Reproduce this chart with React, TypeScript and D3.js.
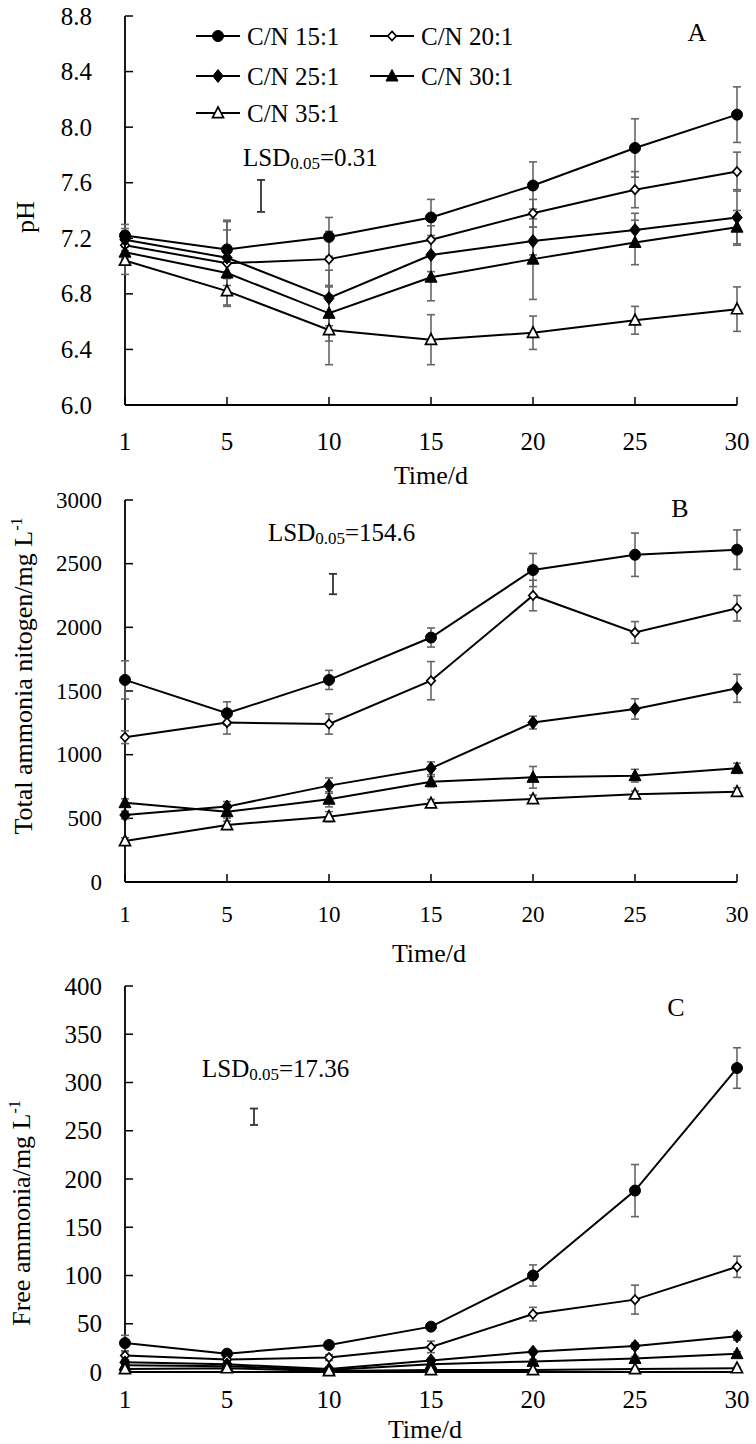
import React from "react";
import * as d3 from "d3";

const days = ["1", "5", "10", "15", "20", "25", "30"];
const seriesNames = ["C/N 15:1", "C/N 20:1", "C/N 25:1", "C/N 30:1", "C/N 35:1"];
const markerKinds = ["circleFilled", "diamondOpen", "diamondFilled", "triangleFilled", "triangleOpen"];

// Panel A: pH
const pH15 = [7.22, 7.12, 7.21, 7.35, 7.58, 7.85, 8.09];
const pH20 = [7.15, 7.02, 7.05, 7.19, 7.38, 7.55, 7.68];
const pH25 = [7.19, 7.06, 6.77, 7.08, 7.18, 7.26, 7.35];
const pH30 = [7.10, 6.95, 6.66, 6.92, 7.05, 7.17, 7.28];
const pH35 = [7.04, 6.82, 6.54, 6.47, 6.52, 6.61, 6.69];
const pHErr15 = [0.08, 0.21, 0.14, 0.13, 0.17, 0.21, 0.2];
const pHErr20 = [0.1, 0.3, 0.2, 0.1, 0.1, 0.13, 0.14];
const pHErr25 = [0.08, 0.2, 0.2, 0.12, 0.1, 0.12, 0.2];
const pHErr30 = [0.08, 0.15, 0.2, 0.17, 0.29, 0.16, 0.12];
const pHErr35 = [0.1, 0.11, 0.25, 0.18, 0.12, 0.1, 0.16];
const pHTicks = [6.0, 6.4, 6.8, 7.2, 7.6, 8.0, 8.4, 8.8];

// Panel B: total ammonia nitrogen
const tan15 = [1587, 1325, 1587, 1920, 2450, 2570, 2610];
const tan20 = [1137, 1252, 1241, 1581, 2250, 1960, 2150];
const tan25 = [526, 592, 757, 893, 1252, 1359, 1521];
const tan30 = [623, 552, 650, 788, 822, 835, 893];
const tan35 = [322, 448, 513, 618, 652, 689, 709];
const tanErr15 = [150, 90, 75, 75, 130, 170, 155];
const tanErr20 = [50, 90, 80, 150, 120, 85, 100];
const tanErr25 = [30, 40, 60, 50, 50, 80, 110];
const tanErr30 = [30, 50, 60, 40, 85, 50, 40];
const tanErr35 = [25, 30, 40, 30, 30, 25, 30];
const tanTicks = [0, 500, 1000, 1500, 2000, 2500, 3000];

// Panel C: free ammonia
const fa15 = [30, 19, 28, 47, 100, 188, 315];
const fa20 = [17, 13, 15, 26, 60, 75, 109];
const fa25 = [10, 8, 3, 12, 21, 27, 37];
const fa30 = [7, 6, 2, 8, 11, 14, 19];
const fa35 = [3, 4, 1, 2, 2, 3, 4];
const faErr15 = [8, 3, 3, 3, 11, 27, 21];
const faErr20 = [4, 3, 3, 6, 7, 15, 11];
const faErr25 = [2, 2, 1, 2, 2, 3, 4];
const faErr30 = [2, 2, 1, 2, 2, 2, 2];
const faErr35 = [1, 1, 1, 1, 1, 1, 1];
const faTicks = [0, 50, 100, 150, 200, 250, 300, 350, 400];

const FONT = "'Liberation Serif', 'Times New Roman', serif";
const ERR_COLOR = "#666";

function markerPath(kind: string): string {
  switch (kind) {
    case "circleFilled":
    case "circleOpen":
      return "M-5.5,0A5.5,5.5 0 1,0 5.5,0A5.5,5.5 0 1,0 -5.5,0Z";
    case "diamondOpen":
      return "M0,-4.6L4.2,0L0,4.6L-4.2,0Z";
    case "diamondFilled":
      return "M0,-6.5L5.2,0L0,6.5L-5.2,0Z";
    case "triangleFilled":
      return "M0,-6.5L6,5L-6,5Z";
    case "triangleOpen":
      return "M0,-6L5.5,4.6L-5.5,4.6Z";
  }
  return "";
}

function Marker({ kind, x, y }: { kind: string; x: number; y: number }) {
  const open = kind.endsWith("Open");
  return (
    <path
      d={markerPath(kind)}
      transform={`translate(${x},${y})`}
      fill={open ? "#fff" : "#000"}
      stroke="#000"
      strokeWidth={open ? 1.7 : 1}
    />
  );
}

type PanelProps = {
  series: number[][];
  errs: number[][];
  domain: [number, number];
  ticks: number[];
  fmt: (v: number) => string;
  top: number;
  bottom: number;
  tickFont: number;
  tickLabelRight: number;
  xLabelY: number;
  timeLabelY: number;
  timeLabelX: number;
  letter: string;
  letterX: number;
  letterY: number;
  lsdText: string;
  lsdX: number;
  lsdY: number;
  lsdBarX: number;
  lsdBar: [number, number];
  yTitle: React.ReactNode;
};

const xLeft = 125;
const xRight = 737;

function Panel(p: PanelProps) {
  const x = d3.scalePoint<string>().domain(days).range([xLeft, xRight]);
  const y = d3.scaleLinear().domain(p.domain).range([p.bottom, p.top]);
  const line = d3
    .line<number>()
    .x((_, i) => x(days[i]) as number)
    .y((v) => y(v));
  const cap = 4;
  return (
    <g>
      <line x1={xLeft} x2={xLeft} y1={p.top} y2={p.bottom} stroke="#000" strokeWidth={1.8} />
      <line x1={xLeft} x2={xRight} y1={p.bottom} y2={p.bottom} stroke="#000" strokeWidth={1.8} />
      {p.ticks.map((t) => (
        <g key={"yt" + t}>
          <line x1={xLeft} x2={xLeft + 8} y1={y(t)} y2={y(t)} stroke="#000" strokeWidth={1.5} />
          <text
            x={p.tickLabelRight}
            y={y(t)}
            textAnchor="end"
            dominantBaseline="central"
            fontSize={p.tickFont}
            fontFamily={FONT}
          >
            {p.fmt(t)}
          </text>
        </g>
      ))}
      {days.map((d) => (
        <g key={"xt" + d}>
          <line x1={x(d)} x2={x(d)} y1={p.bottom} y2={p.bottom - 8} stroke="#000" strokeWidth={1.5} />
          <text
            x={x(d)}
            y={p.xLabelY}
            textAnchor="middle"
            dominantBaseline="central"
            fontSize={p.tickFont}
            fontFamily={FONT}
          >
            {d}
          </text>
        </g>
      ))}
      <text
        x={p.timeLabelX}
        y={p.timeLabelY}
        textAnchor="middle"
        dominantBaseline="central"
        fontSize={26}
        fontFamily={FONT}
      >
        Time/d
      </text>
      {p.yTitle}
      {p.series.map((s, si) =>
        s.map((v, i) => {
          const cx = x(days[i]) as number;
          const e = p.errs[si][i];
          const y1 = y(v + e);
          const y2 = y(v - e);
          return (
            <g key={`e${si}-${i}`} stroke={ERR_COLOR} strokeWidth={1.6}>
              <line x1={cx} x2={cx} y1={y1} y2={y2} />
              <line x1={cx - cap} x2={cx + cap} y1={y1} y2={y1} />
              <line x1={cx - cap} x2={cx + cap} y1={y2} y2={y2} />
            </g>
          );
        })
      )}
      {p.series.map((s, si) => (
        <path key={"l" + si} d={line(s) || ""} fill="none" stroke="#000" strokeWidth={2} />
      ))}
      {p.series.map((s, si) =>
        s.map((v, i) => (
          <Marker key={`m${si}-${i}`} kind={markerKinds[si]} x={x(days[i]) as number} y={y(v)} />
        ))
      )}
      <text
        x={p.letterX}
        y={p.letterY}
        textAnchor="middle"
        dominantBaseline="central"
        fontSize={26}
        fontFamily={FONT}
      >
        {p.letter}
      </text>
      <text x={p.lsdX} y={p.lsdY} dominantBaseline="central" fontSize={25} fontFamily={FONT}>
        LSD
        <tspan fontSize={17} dy={6}>
          0.05
        </tspan>
        <tspan dy={-6}>={p.lsdText}</tspan>
      </text>
      <g stroke="#333" strokeWidth={1.8}>
        <line x1={p.lsdBarX} x2={p.lsdBarX} y1={y(p.lsdBar[0])} y2={y(p.lsdBar[1])} />
        <line x1={p.lsdBarX - 4} x2={p.lsdBarX + 4} y1={y(p.lsdBar[0])} y2={y(p.lsdBar[0])} />
        <line x1={p.lsdBarX - 4} x2={p.lsdBarX + 4} y1={y(p.lsdBar[1])} y2={y(p.lsdBar[1])} />
      </g>
    </g>
  );
}

function Legend() {
  const rows = [
    { x: 196, y: 36, i: 0 },
    { x: 370, y: 36, i: 1 },
    { x: 196, y: 76, i: 2 },
    { x: 370, y: 76, i: 3 },
    { x: 196, y: 113, i: 4 },
  ];
  return (
    <g>
      {rows.map((r) => (
        <g key={"lg" + r.i}>
          <line x1={r.x} x2={r.x + 44} y1={r.y} y2={r.y} stroke="#000" strokeWidth={2} />
          <Marker kind={markerKinds[r.i]} x={r.x + 22} y={r.y} />
          <text
            x={r.x + 51}
            y={r.y}
            dominantBaseline="central"
            fontSize={25}
            fontFamily={FONT}
          >
            {seriesNames[r.i]}
          </text>
        </g>
      ))}
    </g>
  );
}

function RotTitle({ x, y, children }: { x: number; y: number; children: React.ReactNode }) {
  return (
    <text
      transform={`translate(${x},${y}) rotate(-90)`}
      textAnchor="middle"
      fontSize={26}
      fontFamily={FONT}
    >
      {children}
    </text>
  );
}

export default function App() {
  return (
    <svg
      width={756}
      height={1444}
      style={{ position: "absolute", left: 0, top: 0, background: "#fff" }}
    >
      <rect width={756} height={1444} fill="#fff" />
      <Panel
        series={[pH15, pH20, pH25, pH30, pH35]}
        errs={[pHErr15, pHErr20, pHErr25, pHErr30, pHErr35]}
        domain={[6.0, 8.8]}
        ticks={pHTicks}
        fmt={d3.format(".1f")}
        top={16}
        bottom={405}
        tickFont={25}
        tickLabelRight={92}
        xLabelY={441}
        timeLabelY={475}
        timeLabelX={431}
        letter="A"
        letterX={697}
        letterY={32}
        lsdText="0.31"
        lsdX={243}
        lsdY={157}
        lsdBarX={261}
        lsdBar={[7.62, 7.39]}
        yTitle={<RotTitle x={34} y={217}>pH</RotTitle>}
      />
      <Legend />
      <Panel
        series={[tan15, tan20, tan25, tan30, tan35]}
        errs={[tanErr15, tanErr20, tanErr25, tanErr30, tanErr35]}
        domain={[0, 3000]}
        ticks={tanTicks}
        fmt={d3.format("d")}
        top={500}
        bottom={882}
        tickFont={23}
        tickLabelRight={102}
        xLabelY={914}
        timeLabelY={953}
        timeLabelX={429}
        letter="B"
        letterX={680}
        letterY={508}
        lsdText="154.6"
        lsdX={268}
        lsdY={532}
        lsdBarX={333}
        lsdBar={[2420, 2260]}
        yTitle={
          <RotTitle x={32} y={676}>
            Total ammonia nitogen/mg L<tspan fontSize={16} dy={-10}>-1</tspan>
          </RotTitle>
        }
      />
      <Panel
        series={[fa15, fa20, fa25, fa30, fa35]}
        errs={[faErr15, faErr20, faErr25, faErr30, faErr35]}
        domain={[0, 400]}
        ticks={faTicks}
        fmt={d3.format("d")}
        top={986}
        bottom={1372}
        tickFont={25}
        tickLabelRight={102}
        xLabelY={1399}
        timeLabelY={1429}
        timeLabelX={425}
        letter="C"
        letterX={676}
        letterY={1007}
        lsdText="17.36"
        lsdX={202}
        lsdY={1068}
        lsdBarX={254}
        lsdBar={[273, 256]}
        yTitle={
          <RotTitle x={30} y={1213}>
            Free ammonia/mg L<tspan fontSize={16} dy={-10}>-1</tspan>
          </RotTitle>
        }
      />
    </svg>
  );
}
